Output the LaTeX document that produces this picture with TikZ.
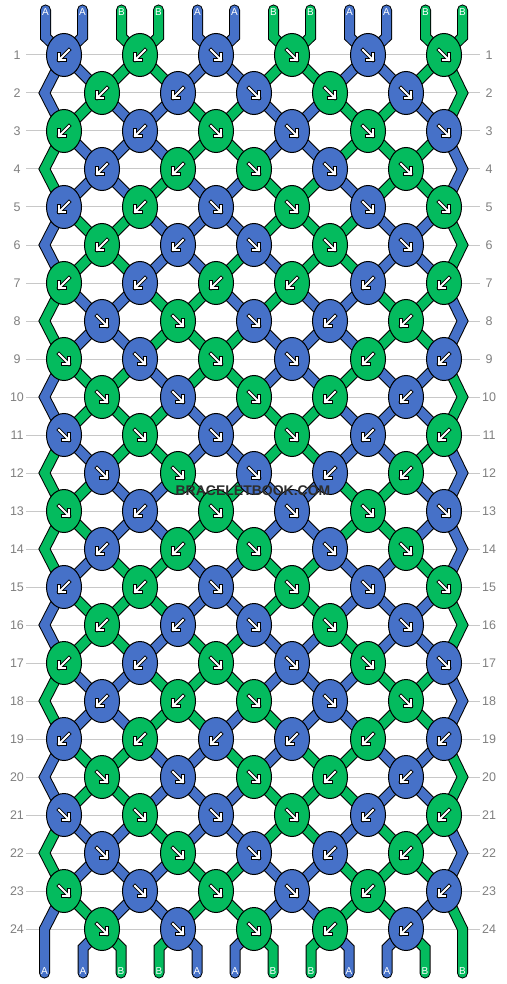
\documentclass[tikz,border=0pt]{standalone}
\usepackage{fontspec}
\setmainfont{Liberation Sans}
\usetikzlibrary{shapes.geometric}

\definecolor{strA}{RGB}{70,113,200}
\definecolor{strB}{RGB}{4,187,94}
\definecolor{linegray}{RGB}{200,200,200}
\definecolor{numgray}{RGB}{128,128,128}
\definecolor{logogray}{RGB}{45,45,45}

\tikzset{
  strand/.style={draw=str#1, line width=9pt, line cap=round, line join=miter,
    preaction={draw=black, line width=11pt, line cap=round, line join=miter}},
  knot/.style={ellipse, draw=black, line width=1pt, inner sep=0pt,
    minimum width=35pt, minimum height=43pt},
  rowline/.style={draw=linegray, line width=1pt},
  rownum/.style={text=numgray, inner sep=0pt, font=\fontsize{12.5}{14}\selectfont},
  endlabel/.style={text=white, inner sep=0pt, font=\fontsize{10}{10}\selectfont},
  logotext/.style={inner sep=1pt, font=\bfseries\fontsize{14}{14}\selectfont},
  arrowout/.style={black, line width=3.8pt, line cap=rect, line join=miter},
  arrowin/.style={white, line width=1.8pt, line cap=rect, line join=miter},
  sw/.pic={
    \draw[arrowout] (5,-5) -- (-5,5) (-5,-1) -- (-5,5) -- (1,5);
    \draw[arrowin] (5,-5) -- (-5,5) (-5,-1) -- (-5,5) -- (1,5);
  },
  se/.pic={
    \draw[arrowout] (-5,-5) -- (5,5) (5,-1) -- (5,5) -- (-1,5);
    \draw[arrowin] (-5,-5) -- (5,5) (5,-1) -- (5,5) -- (-1,5);
  }
}

\begin{document}
\begin{tikzpicture}[x=1pt, y=-1pt,
  declare function={tri(\w)=12-abs(mod(\w+48,24)-12);
    xc(\q)=(\q==0)?44.5:((\q==12)?462.5:26+38*\q);}]
  \useasboundingbox (0,0) rectangle (506,984);
  \fill[white] (0,0) rectangle (506,984);

  \foreach \r in {1,...,24}{
    \draw[rowline] (26,{55+38*(\r-1)}) -- (480,{55+38*(\r-1)});
    \node[rownum] (nl\r) at (17,{55+38*(\r-1)}) {\r};
    \node[rownum] (nr\r) at (489,{55+38*(\r-1)}) {\r};
  }

  % strings, each one zigzags from edge to edge
  \foreach \s/\sc in {1/A,2/A,3/B,4/B,5/A,6/A,7/B,8/B,9/A,10/A,11/B,12/B}{
    \pgfmathsetmacro\cone{2*ceil(\s/2)-1}
    \pgfmathsetmacro\dd{ifthenelse(mod(\s,2)==1,1,-1)}
    \pgfmathsetmacro\xtop{xc(\cone)+18.5*(tri(\cone-\dd)-\cone)}
    \pgfmathsetmacro\cend{tri(\cone+23*\dd)}
    \pgfmathsetmacro\xbot{xc(\cend)+ifthenelse(or(\cend==0,\cend==12),0,19*(tri(\cone+24*\dd)-\cend))}
    \draw[strand=\sc] (\xtop,10) -- (\xtop,37)
      \foreach \r in {1,...,24}{ -- ({xc(tri(\cone+\dd*(\r-1)))},{55+38*(\r-1)}) }
      -- (\xbot,948) -- (\xbot,973);
    \node[endlabel] (top\s) at (\xtop,12) {\sc};
    \node[endlabel] (bot\s) at (\xbot,971) {\sc};
  }

  % knots: colour of the knot / direction of the arrow
  \foreach \row [count=\r] in {
    {A/sw,B/sw,A/se,B/se,A/se,B/se},
    {B/sw,A/sw,A/se,B/se,A/se},
    {B/sw,A/sw,B/se,A/se,B/se,A/se},
    {A/sw,B/sw,B/se,A/se,B/se},
    {A/sw,B/sw,A/se,B/se,A/se,B/se},
    {B/sw,A/sw,A/se,B/se,A/se},
    {B/sw,A/sw,B/sw,B/sw,A/sw,B/sw},
    {A/se,B/se,A/se,A/sw,B/sw},
    {B/se,A/se,B/se,A/se,B/sw,A/sw},
    {B/se,A/se,B/se,B/sw,A/sw},
    {A/se,B/se,A/se,B/se,A/sw,B/sw},
    {A/se,B/se,A/se,A/sw,B/sw},
    {B/se,A/sw,B/se,A/se,B/se,A/se},
    {A/sw,B/sw,B/se,A/se,B/se},
    {A/sw,B/sw,A/se,B/se,A/se,B/se},
    {B/sw,A/sw,A/se,B/se,A/se},
    {B/sw,A/sw,B/se,A/se,B/se,A/se},
    {A/sw,B/sw,B/se,A/se,B/se},
    {A/sw,B/sw,A/sw,A/sw,B/sw,A/sw},
    {B/se,A/se,B/se,B/sw,A/sw},
    {A/se,B/se,A/se,B/se,A/sw,B/sw},
    {A/se,B/se,A/se,A/sw,B/sw},
    {B/se,A/se,B/se,A/se,B/sw,A/sw},
    {B/se,A/se,B/se,B/sw,A/sw}}{
    \foreach \kc/\kd [count=\k] in \row{
      \node[knot, fill=str\kc] (k\r-\k) at ({26+38*(2*\k-mod(\r,2))},{55+38*(\r-1)}) {};
      \pic at (k\r-\k) {\kd};
    }
  }

  \node[logotext, text=logogray] (logo) at (253,491) {BRACELETBOOK.COM};
\end{tikzpicture}
\end{document}
